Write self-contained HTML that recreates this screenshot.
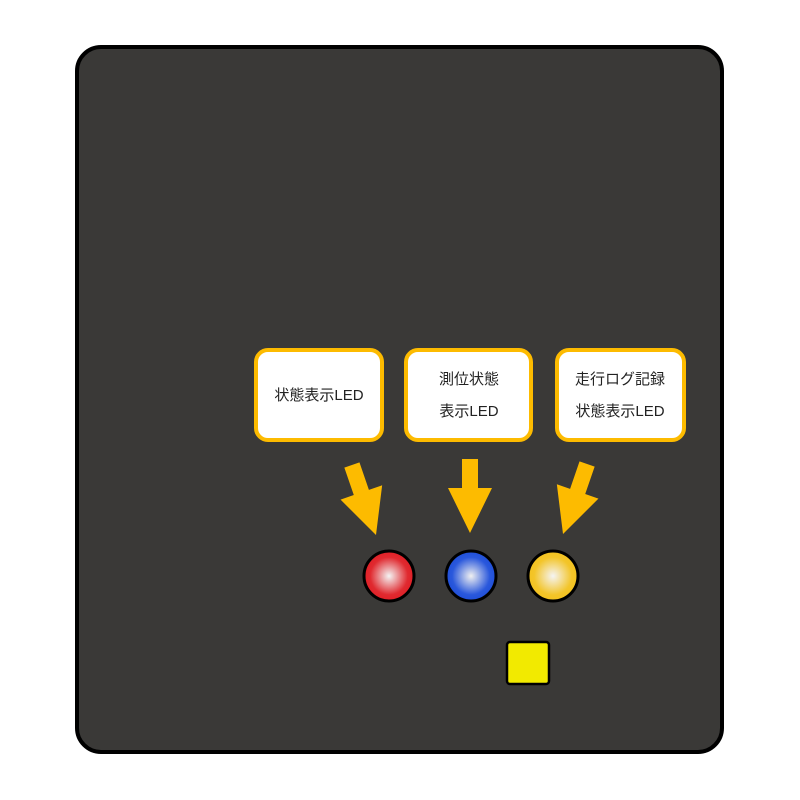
<!DOCTYPE html>
<html><head><meta charset="utf-8"><style>
body{margin:0;width:800px;height:800px;background:#fff;overflow:hidden}
svg{position:absolute;left:0;top:0}
.t{font-family:"Liberation Sans","Noto Sans CJK JP",sans-serif;font-size:15px;fill:#222;text-anchor:middle}
</style></head><body>
<svg width="800" height="800" viewBox="0 0 800 800">
<defs>
<radialGradient id="r"><stop offset="0" stop-color="#f4f4f4"/><stop offset="0.75" stop-color="#e02a30"/><stop offset="1" stop-color="#e01f26"/></radialGradient>
<radialGradient id="b"><stop offset="0" stop-color="#f0f0f0"/><stop offset="0.75" stop-color="#2a58dc"/><stop offset="1" stop-color="#1f4fd8"/></radialGradient>
<radialGradient id="y"><stop offset="0" stop-color="#f4f4f4"/><stop offset="0.75" stop-color="#f3c52a"/><stop offset="1" stop-color="#f3c21f"/></radialGradient>
<polygon id="a" points="-8,-74 8,-74 8,-45 22,-45 0,0 -22,-45 -8,-45" fill="#fdbb00"/>
</defs>
<rect x="77" y="47" width="645" height="705" rx="24" fill="#3a3937" stroke="#000" stroke-width="4"/>
<rect x="256" y="350" width="126" height="90" rx="12" fill="#fff" stroke="#fdbb00" stroke-width="4"/>
<rect x="406" y="350" width="125" height="90" rx="12" fill="#fff" stroke="#fdbb00" stroke-width="4"/>
<rect x="557" y="350" width="127" height="90" rx="12" fill="#fff" stroke="#fdbb00" stroke-width="4"/>
<text class="t" x="319" y="400">状態表示LED</text>
<text class="t" x="469" y="384">測位状態</text>
<text class="t" x="469" y="416">表示LED</text>
<text class="t" x="620" y="384">走行ログ記録</text>
<text class="t" x="620" y="416">状態表示LED</text>
<use href="#a" transform="translate(376,535) rotate(-19)"/>
<use href="#a" transform="translate(470,533)"/>
<use href="#a" transform="translate(563,534) rotate(19)"/>
<circle cx="389" cy="576" r="25" fill="url(#r)" stroke="#000" stroke-width="3"/>
<circle cx="471" cy="576" r="25" fill="url(#b)" stroke="#000" stroke-width="3"/>
<circle cx="553" cy="576" r="25" fill="url(#y)" stroke="#000" stroke-width="3"/>
<rect x="507" y="642" width="42" height="42" rx="3" fill="#f2ea00" stroke="#000" stroke-width="2.5"/>
</svg>
</body></html>
